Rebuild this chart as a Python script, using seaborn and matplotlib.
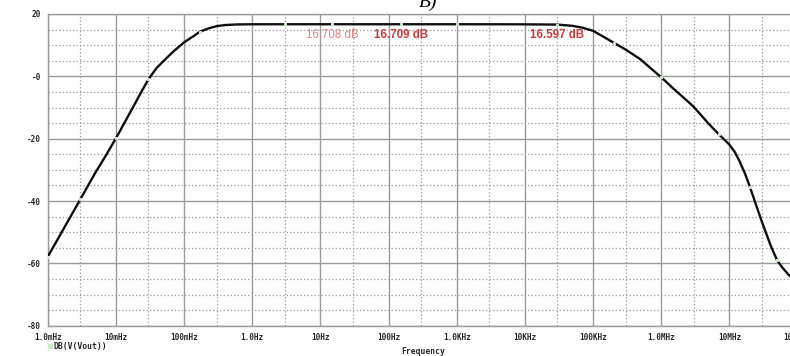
import numpy as np
import pandas as pd
import seaborn as sns
import matplotlib
matplotlib.use("Agg")
import matplotlib.pyplot as plt
from matplotlib.ticker import FixedLocator, NullFormatter
from matplotlib.lines import Line2D

# Frequency response of the amplifier, DB(V(Vout)) versus frequency
freq_hz = [1e-3, 2e-3, 3e-3, 5e-3, 7e-3, 1e-2, 1.5e-2, 2e-2, 2.5e-2, 3e-2,
           3.5e-2, 4e-2, 5.5e-2, 7e-2, 1e-1, 1.4e-1, 1.7e-1, 2.3e-1, 3e-1, 4e-1,
           6e-1, 1.0, 3.0, 15.0, 150.0, 1e3, 4e3, 1e4, 3e4, 5e4,
           7e4, 1e5, 1.5e5, 2e5, 3e5, 5e5, 7e5, 1e6, 1.5e6, 2e6,
           3e6, 5e6, 7e6, 1e7, 1.2e7, 1.4e7, 1.7e7, 2e7, 2.5e7, 3e7,
           4e7, 5e7, 6e7, 7.4e7, 1e8]
gain_db = [-57.9, -46.3, -39.5, -30.9, -25.7, -19.9, -12.9, -7.9, -4.0, -1.0,
           1.1, 2.8, 5.8, 8.0, 10.9, 13.0, 14.3, 15.4, 16.1, 16.45,
           16.65, 16.70, 16.705, 16.708, 16.709, 16.709, 16.70, 16.68, 16.597, 16.2,
           15.6, 14.6, 12.4, 10.8, 8.6, 5.4, 2.6, -0.3, -3.9, -6.3,
           -9.8, -15.3, -18.6, -21.9, -24.3, -27.1, -31.3, -35.5, -41.7, -46.7,
           -54.1, -59.0, -61.4, -63.7, -66.5]

# Cursor readouts placed on the plateau
cursor_freq = [15.0, 150.0, 3e4]
cursor_text = ["16.708 dB", "16.709 dB", "16.597 dB"]
cursor_color = ["#e58585", "#d23a3a", "#d23a3a"]
cursor_weight = ["normal", "bold", "bold"]

decade_ticks = [1e-3, 1e-2, 1e-1, 1e0, 1e1, 1e2, 1e3, 1e4, 1e5, 1e6, 1e7, 1e8]
decade_labels = ["1.0mHz", "10mHz", "100mHz", "1.0Hz", "10Hz", "100Hz",
                 "1.0KHz", "10KHz", "100KHz", "1.0MHz", "10MHz", "100MHz"]
y_ticks = [20, 0, -20, -40, -60, -80]
y_labels = ["20", "-0", "-20", "-40", "-60", "-80"]

df = pd.DataFrame({"Frequency": freq_hz, "dB": gain_db})

sns.set_style("white")
plt.rcParams["font.family"] = ["DejaVu Sans Mono", "DejaVu Sans"]

fig = plt.figure(figsize=(7.9, 3.56), dpi=100)
ax = fig.add_axes([0.0604, 0.0851, 0.9492, 0.8756])

sns.lineplot(data=df, x="Frequency", y="dB", ax=ax, color="#111111", lw=1.7,
             marker="s", markersize=1.6, markevery=0.085,
             markerfacecolor="#c8ecc0", markeredgecolor="#c8ecc0",
             zorder=5)

ax.set_xscale("log")
ax.set_xlim(1e-3, 1e8)
ax.set_ylim(-80, 20)

ax.xaxis.set_major_locator(FixedLocator(decade_ticks))
ax.xaxis.set_minor_locator(FixedLocator([3 * t for t in decade_ticks[:-1]]))
ax.xaxis.set_minor_formatter(NullFormatter())
ax.set_xticklabels(decade_labels)
ax.yaxis.set_major_locator(FixedLocator(y_ticks))
ax.yaxis.set_minor_locator(FixedLocator(list(range(-75, 20, 5))))
ax.set_yticklabels(y_labels)

ax.grid(which="major", color="#9c9c9c", lw=1.0, ls="-")
ax.grid(which="minor", color="#a8a8a8", lw=0.9, ls=(0, (1.2, 1.6)))
ax.set_axisbelow(True)

for side in ["left", "bottom", "top", "right"]:
    ax.spines[side].set_color("#9c9c9c")
    ax.spines[side].set_linewidth(1.0)

ax.tick_params(axis="both", which="major", length=3, width=1.0, color="#9c9c9c",
               labelsize=5.6, labelcolor="#2a2a2a", pad=2)
ax.tick_params(axis="both", which="minor", length=0)
for lab in ax.get_xticklabels() + ax.get_yticklabels():
    lab.set_fontweight("bold")

ax.set_xlabel("")
ax.set_ylabel("")

# cursor value labels
for f, txt, c, w in zip(cursor_freq, cursor_text, cursor_color, cursor_weight):
    ax.text(f, 13.2, txt, color=c, fontsize=8.3, fontweight=w,
            family=["Liberation Sans", "DejaVu Sans"], ha="center", va="center",
            zorder=6)

# trace legend and axis caption
fig.add_artist(Line2D([50 / 790], [1 - 346 / 356], transform=fig.transFigure,
                      marker="s", markersize=2.5, color="#c8ecc0", lw=0))
fig.text(54 / 790, 1 - 346 / 356, "DB(V(Vout))", fontsize=5.9, fontweight="bold",
         color="#2a2a2a", ha="left", va="center")
fig.text(423 / 790, 1 - 352 / 356, "Frequency", fontsize=5.8, fontweight="bold",
         color="#2a2a2a", ha="center", va="center")
fig.text(428 / 790, 1 - 7 / 356, "B)", fontsize=14, fontstyle="italic",
         family=["Liberation Serif", "DejaVu Serif"], color="black",
         ha="center", va="baseline")

fig.savefig("out.png", dpi=100)
